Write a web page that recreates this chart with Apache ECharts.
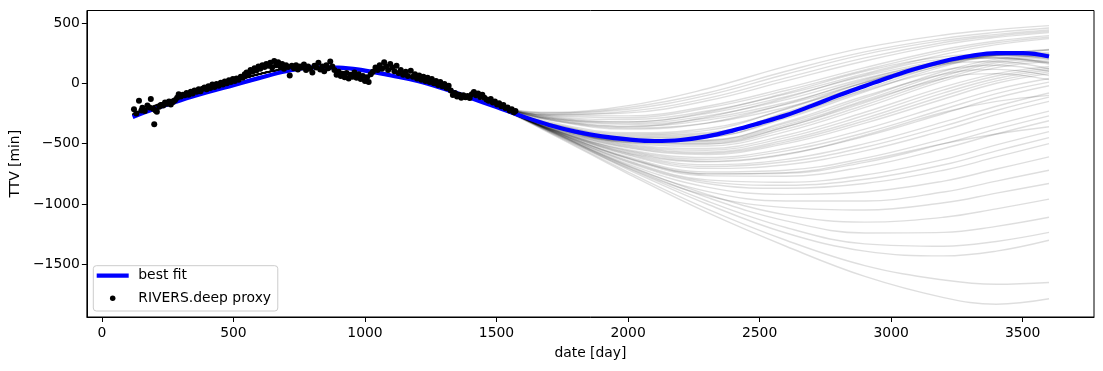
<!DOCTYPE html>
<html><head><meta charset="utf-8">
<script src="https://cdn.jsdelivr.net/npm/echarts@6/dist/echarts.min.js"></script>
<style>html,body{margin:0;padding:0;background:#fff}#c{width:1103px;height:371px}</style>
</head><body><div id="c"></div>
<script>
const xTicks = [0, 500, 1000, 1500, 2000, 2500, 3000, 3500];
const yTicks = [-1500, -1000, -500, 0, 500];

const fitDays = [117,200,300,400,500,600,700,800,900,1000,1100,1200,1300,1400,1500,1600,1700,1800,1900,2000,2100,2200,2300,2400,2500,2600,2700,2800,2900,3000,3100,3200,3300,3400,3500,3600];
const fitTTV  = [-280,-212,-140,-75,-15,45,100,132,130,105,65,20,-45,-120,-197,-275,-345,-400,-440,-465,-478,-470,-440,-390,-330,-265,-185,-100,-22,55,125,183,226,250,250,222];

const proxyDays = [122,131,141,150,154,163,173,181,186,195,199,204,209,218,224,233,240,248,255,262,270,278,286,292,300,308,315,322,330,338,345,352,360,368,375,383,390,398,405,412,420,428,436,444,452,460,467,475,483,490,498,505,512,520,528,535,543,550,557,565,572,580,587,595,602,610,618,625,632,640,647,655,662,670,678,685,692,700,708,714,722,730,738,745,753,760,768,776,784,792,800,808,815,823,830,838,845,853,860,868,876,884,892,900,908,915,923,930,938,945,953,960,968,976,984,992,1000,1008,1014,1022,1030,1040,1048,1056,1065,1073,1080,1088,1096,1104,1112,1120,1128,1136,1145,1155,1163,1174,1182,1190,1198,1206,1214,1222,1230,1238,1246,1254,1262,1270,1278,1286,1294,1302,1310,1318,1326,1334,1342,1350,1358,1366,1374,1382,1390,1398,1406,1414,1422,1430,1438,1446,1454,1462,1470,1478,1486,1494,1502,1510,1518,1526,1534,1542,1550,1558,1566,1572];
const proxyTTV = [-215,-250,-144,-225,-202,-230,-185,-200,-130,-210,-340,-225,-235,-195,-180,-185,-160,-170,-150,-175,-155,-140,-120,-90,-110,-95,-100,-80,-95,-70,-85,-60,-70,-50,-65,-45,-35,-50,-25,-40,-10,-30,-5,-20,5,-10,15,0,25,10,35,20,40,30,55,45,75,90,70,110,95,125,105,140,120,150,135,160,145,170,130,185,150,175,140,160,120,150,135,65,145,125,150,115,140,130,155,110,140,120,90,145,130,170,115,140,100,150,125,180,140,110,70,95,60,80,50,85,40,70,55,90,45,75,35,60,20,50,10,75,95,130,110,150,120,175,140,110,160,130,100,145,85,110,70,95,60,104,55,75,40,65,30,55,20,45,10,35,0,20,-15,10,-25,-5,-40,-20,-60,-97,-80,-110,-95,-120,-100,-115,-105,-122,-90,-72,-100,-85,-113,-95,-120,-135,-145,-130,-160,-150,-175,-165,-190,-180,-205,-200,-225,-215,-240,-230];

const sampleDays = [117, 400, 800, 1200, 1500, 1700, 2000, 2300, 2600, 2900, 3200, 3400, 3600];
const samples = [
 [-250,-42,134,24,-188,-240,-185,-45,140,295,400,445,478],
 [-254,-44,133,23,-189,-250,-215,-100,75,240,355,405,442],
 [-258,-45,134,22,-190,-260,-245,-145,20,185,320,380,420],
 [-252,-43,135,24,-190,-265,-270,-190,-40,130,280,350,395],
 [-260,-46,132,21,-191,-275,-300,-230,-90,80,240,320,370],
 [-256,-45,133,22,-191,-280,-320,-250,-110,60,190,230,230],
 [-262,-47,131,20,-192,-290,-340,-290,-160,20,170,240,280],
 [-255,-44,134,23,-192,-300,-370,-330,-200,-20,150,230,275],
 [-259,-46,132,22,-191,-290,-320,-240,-80,100,220,240,200],
 [-263,-48,131,20,-193,-305,-380,-330,-170,30,180,210,170],
 [-257,-45,133,22,-193,-330,-430,-410,-250,-30,170,250,240],
 [-261,-47,132,21,-194,-340,-455,-445,-290,-70,140,230,240],
 [-265,-49,131,19,-195,-345,-470,-470,-330,-120,100,200,230],
 [-253,-43,135,23,-194,-350,-480,-490,-360,-160,60,170,210],
 [-258,-46,133,22,-193,-335,-440,-420,-240,-10,170,210,160],
 [-262,-47,132,20,-195,-355,-495,-520,-400,-200,20,130,180],
 [-266,-49,130,19,-196,-360,-505,-540,-430,-240,-30,80,140],
 [-255,-44,134,23,-193,-345,-470,-450,-280,-60,110,150,100],
 [-260,-46,132,21,-196,-365,-520,-570,-470,-290,-80,40,110],
 [-264,-48,131,20,-197,-370,-535,-590,-500,-330,-130,0,80],
 [-257,-45,133,22,-195,-355,-490,-500,-360,-150,40,80,30],
 [-263,-48,131,20,-197,-375,-550,-615,-540,-380,-180,-50,40],
 [-259,-46,133,21,-196,-372,-565,-645,-585,-440,-250,-120,-20],
 [-262,-47,132,20,-197,-375,-580,-675,-630,-500,-320,-190,-80],
 [-256,-45,134,22,-196,-377,-595,-705,-675,-560,-390,-260,-150],
 [-265,-49,131,19,-198,-380,-610,-735,-720,-620,-460,-340,-230],
 [-258,-46,133,21,-197,-382,-625,-765,-770,-690,-540,-420,-310],
 [-261,-47,132,20,-198,-384,-640,-800,-820,-760,-630,-510,-400],
 [-264,-48,131,19,-198,-386,-655,-830,-870,-830,-720,-610,-500],
 [-257,-45,133,21,-197,-388,-670,-860,-920,-900,-810,-710,-610],
 [-260,-47,132,20,-199,-390,-685,-895,-975,-975,-900,-810,-720],
 [-263,-48,131,19,-199,-391,-700,-930,-1030,-1050,-990,-910,-830],
 [-259,-46,133,21,-196,-373,-575,-650,-590,-430,-240,-150,-100],
 [-262,-47,132,20,-198,-381,-620,-750,-740,-640,-500,-420,-360],
 [-260,-47,132,20,-199,-392,-680,-920,-1090,-1150,-1110,-1040,-960],
 [-263,-48,131,19,-200,-395,-690,-945,-1140,-1240,-1235,-1185,-1110],
 [-258,-46,132,20,-199,-398,-705,-975,-1195,-1330,-1350,-1310,-1235],
 [-261,-47,131,19,-200,-400,-715,-1000,-1240,-1390,-1430,-1390,-1300],
 [-264,-48,130,18,-201,-405,-735,-1040,-1300,-1510,-1630,-1665,-1650],
 [-266,-49,130,18,-201,-410,-750,-1070,-1350,-1600,-1775,-1830,-1785],
 [-252,-43,134,23,-189,-245,-200,-80,100,260,372,422,458],
 [-257,-45,133,22,-190,-258,-232,-125,45,210,338,392,430],
 [-261,-46,132,21,-191,-270,-285,-205,-60,110,262,336,382],
 [-259,-46,133,21,-192,-285,-330,-270,-135,40,180,235,255],
 [-256,-45,133,22,-192,-295,-355,-305,-175,5,162,236,278],
 [-262,-47,132,20,-193,-320,-410,-375,-215,5,172,230,215],
 [-258,-46,133,21,-194,-338,-448,-432,-270,-50,155,240,240],
 [-260,-46,132,21,-195,-348,-475,-480,-345,-140,80,185,220],
 [-263,-48,131,20,-195,-352,-488,-505,-380,-180,40,150,195],
 [-261,-47,132,20,-196,-362,-512,-555,-450,-265,-55,60,125],
 [-264,-48,131,19,-197,-368,-528,-580,-485,-310,-105,20,95],
 [-258,-46,133,21,-195,-350,-480,-475,-320,-105,75,115,65],
 [-262,-47,132,20,-197,-374,-558,-630,-560,-410,-215,-85,10],
 [-260,-47,132,20,-198,-378,-588,-690,-650,-530,-355,-225,-115],
 [-263,-48,131,19,-198,-383,-618,-750,-745,-655,-500,-380,-270],
 [-265,-48,131,19,-199,-387,-648,-815,-845,-795,-675,-560,-450],
 [-257,-45,133,22,-192,-300,-360,-280,-120,70,200,215,170],
 [-260,-46,132,21,-194,-330,-420,-390,-210,10,160,180,120]
];

const FONT = 'DejaVu Sans';
const fmt = v => (v < 0 ? '\u2212' + Math.abs(v) : String(v));
const zip = (xs, ys) => xs.map((x, i) => [x, ys[i]]);

const series = samples.map(s => ({
  type: 'line', name: 'sample', data: zip(sampleDays, s), smooth: 0.4,
  symbol: 'none', silent: true, z: 1,
  lineStyle: { color: 'rgba(0,0,0,0.13)', width: 1.4 }
}));
series.push({
  type: 'line', name: 'best fit', data: zip(fitDays, fitTTV), smooth: 0.4,
  symbol: 'none', z: 3, lineStyle: { color: '#0000ff', width: 4.2 }, itemStyle: { color: '#0000ff' }
});
series.push({
  type: 'scatter', name: 'RIVERS.deep proxy', data: zip(proxyDays, proxyTTV),
  symbol: 'circle', symbolSize: 6, z: 4, itemStyle: { color: '#000', opacity: 1 }
});

const chart = echarts.init(document.getElementById('c'), null, { renderer: 'canvas' });
chart.setOption({
  animation: false,
  backgroundColor: '#fff',
  textStyle: { fontFamily: FONT },
  grid: { left: 86, right: 9, top: 10.5, bottom: 54, show: true, borderColor: '#000', borderWidth: 1, backgroundColor: 'transparent' },
  xAxis: {
    type: 'value', min: -57, max: 3771,
    name: 'date [day]', nameLocation: 'middle', nameGap: 29,
    nameTextStyle: { color: '#000', fontSize: 13.9, fontFamily: FONT },
    axisLine: { show: true, onZero: false, lineStyle: { color: '#000', width: 1 } },
    axisTick: { show: true, inside: false, length: 5, customValues: xTicks, lineStyle: { color: '#000' } },
    axisLabel: { customValues: xTicks, formatter: fmt, color: '#000', fontSize: 13.9, fontFamily: FONT, margin: 9 },
    splitLine: { show: false }
  },
  yAxis: {
    type: 'value', min: -1936, max: 603,
    name: 'TTV [min]', nameLocation: 'middle', nameGap: 63, nameRotate: 90,
    nameTextStyle: { color: '#000', fontSize: 13.9, fontFamily: FONT },
    axisLine: { show: true, onZero: false, lineStyle: { color: '#000', width: 1 } },
    axisTick: { show: true, inside: false, length: 5, customValues: yTicks, lineStyle: { color: '#000' } },
    axisLabel: { customValues: yTicks, formatter: fmt, color: '#000', fontSize: 13.9, fontFamily: FONT, margin: 7 },
    splitLine: { show: false }
  },
  legend: {
    data: [
      { name: 'best fit', icon: 'path://M0,0H32V4.2H0Z', itemStyle: { color: '#0000ff' } },
      { name: 'RIVERS.deep proxy', icon: 'circle', itemStyle: { color: '#000' } }
    ],
    orient: 'vertical', left: 93.3, top: 265.7,
    itemWidth: 32, itemHeight: 5.5, itemGap: 6.6,
    padding: [2, 6.7, 4.7, 3.4],
    backgroundColor: '#fff', borderColor: '#cccccc', borderWidth: 1, borderRadius: 3,
    selectedMode: false,
    textStyle: { color: '#000', fontSize: 13.9, fontFamily: FONT, lineHeight: 16, padding: [0, 0, 0, 4.6] }
  },
  series
});
</script></body></html>
